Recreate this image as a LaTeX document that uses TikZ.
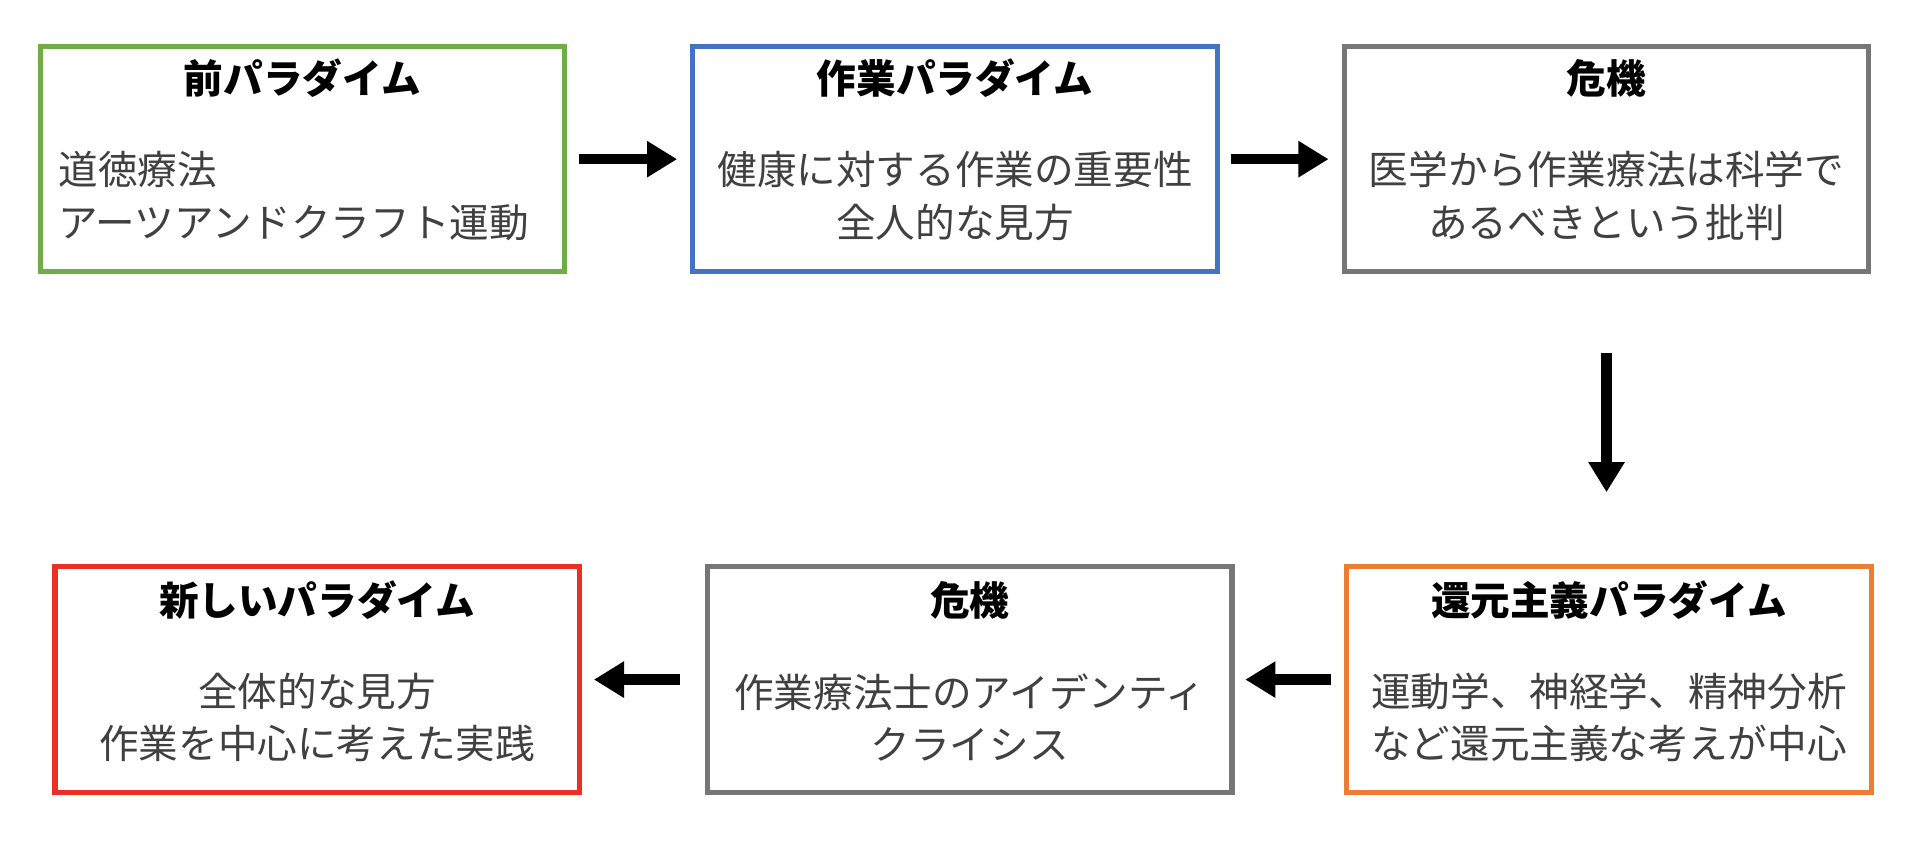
\documentclass[tikz,border=0pt]{standalone}
\usepackage{fontspec}
\setmainfont{Noto Sans CJK JP}
\usetikzlibrary{arrows.meta}
\begin{document}
\begin{tikzpicture}[x=0.01cm,y=-0.01cm,
 box/.style={draw=#1,line width=1.2pt,minimum width=4.28cm,minimum height=1.84cm,inner sep=0pt},
 ttl/.style={font=\fontsize{9.2}{11}\selectfont\bfseries,text=black},
 bd/.style={font=\fontsize{9.2}{12.2}\selectfont,text=black!75,align=center},
 arr/.style={line width=2.4pt,-{Triangle[length=7pt,width=8pt]}}]
\useasboundingbox (0,0) rectangle (1568,700);
\definecolor{cg}{RGB}{112,173,71}
\definecolor{cb}{RGB}{68,114,196}
\definecolor{cy}{RGB}{118,118,118}
\definecolor{cr}{RGB}{232,49,36}
\definecolor{co}{RGB}{237,125,49}
\node[box=cg] (b1) at (247,130) {};
\node[box=cb] (b2) at (780,130) {};
\node[box=cy] (b3) at (1312,130) {};
\node[box=cr] (b4) at (259,555) {};
\node[box=cy] (b5) at (792,555) {};
\node[box=co] (b6) at (1314,555) {};
\node[ttl] (t1) at (247,64) {前パラダイム};
\node[ttl] (t2) at (780,64) {作業パラダイム};
\node[ttl] (t3) at (1312,64) {危機};
\node[ttl] (t4) at (259,490) {新しいパラダイム};
\node[ttl] (t5) at (792,490) {危機};
\node[ttl] (t6) at (1314,490) {還元主義パラダイム};
\node[bd,align=left,anchor=west,inner sep=0pt] (x1) at (47,160) {道徳療法\\アーツアンドクラフト運動};
\node[bd] (x2) at (780,160) {健康に対する作業の重要性\\全人的な見方};
\node[bd] (x3) at (1312,160) {医学から作業療法は科学で\\あるべきという批判};
\node[bd] (x4) at (259,586) {全体的な見方\\作業を中心に考えた実践};
\node[bd] (x5) at (792,586) {作業療法士のアイデンティ\\クライシス};
\node[bd] (x6) at (1314,586) {運動学、神経学、精神分析\\など還元主義な考えが中心};
\coordinate (a1s) at (473,130); \coordinate (a1e) at (553,130);
\coordinate (a2s) at (1005,130); \coordinate (a2e) at (1085,130);
\coordinate (a3s) at (1312,288); \coordinate (a3e) at (1312,402);
\coordinate (a4s) at (1087,555); \coordinate (a4e) at (1017,555);
\coordinate (a5s) at (555,555); \coordinate (a5e) at (485,555);
\draw[arr] (a1s) -- (a1e);
\draw[arr] (a2s) -- (a2e);
\draw[arr] (a3s) -- (a3e);
\draw[arr] (a4s) -- (a4e);
\draw[arr] (a5s) -- (a5e);
\end{tikzpicture}
\end{document}
